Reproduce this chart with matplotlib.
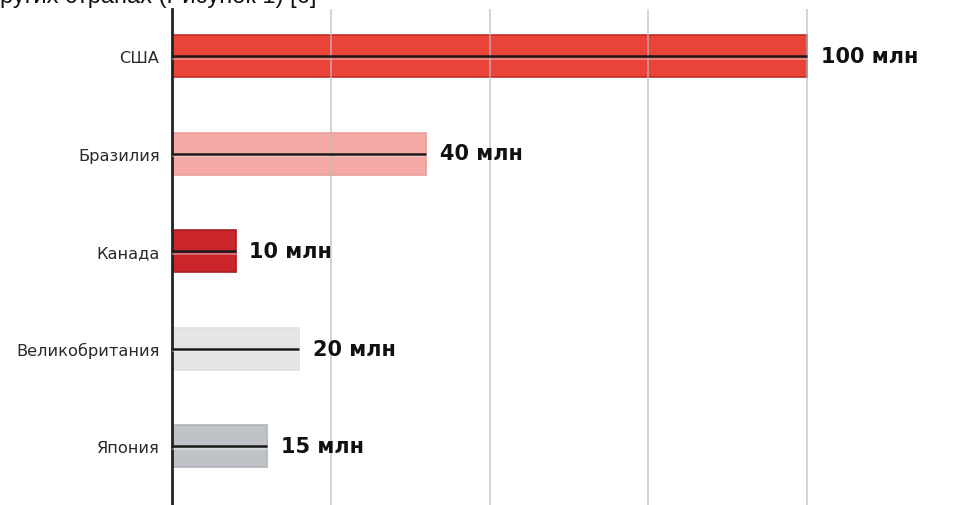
import matplotlib
matplotlib.use("Agg")
import matplotlib.pyplot as plt

categories = ["США", "Бразилия", "Канада", "Великобритания", "Япония"]
values = [100, 40, 10, 20, 15]
value_labels = ["100 млн", "40 млн", "10 млн", "20 млн", "15 млн"]
bar_colors = ["#EA4339", "#F4A9A4", "#C9252A", "#E6E6E6", "#BFC2C6"]
edge_colors = ["#C02A25", "#E8A09B", "#A81E22", "#E0E0E0", "#B0B3B7"]
grid_ticks = [25, 50, 75, 100]
caption = "ругих странах (Рисунок 1) [6]"

W, H = 957, 506
fig = plt.figure(figsize=(W / 100, H / 100), dpi=100)
fig.patch.set_facecolor("white")

x0, x100 = 172, 807
xmax = (W - x0) / ((x100 - x0) / 100)
ytop, ybot = 10, 506
y_first, y_last = 57, 447
step = (y_last - y_first) / (len(categories) - 1)
ylim_top = -(y_first - ytop) / step
ylim_bot = (len(categories) - 1) + (ybot - y_last) / step

ax = fig.add_axes([x0 / W, 0, (W - x0) / W, (ybot - ytop) / H])
ax.set_xlim(0, xmax)
ax.set_ylim(ylim_bot, ylim_top)

ypos = list(range(len(categories)))
bar_h = 42 / step
ax.barh(ypos, values, height=bar_h, color=bar_colors, edgecolor=edge_colors,
        linewidth=1.2, zorder=2)
for y, v in zip(ypos, values):
    ax.plot([0, v], [y + 0.03, y + 0.03], color="white", lw=1.2, alpha=0.4, zorder=3)
    ax.plot([0, v], [y, y], color="#1a1a1a", lw=1.8, zorder=4, solid_capstyle="butt")

for g in grid_ticks:
    ax.axvline(g, color="#bdbdbd", lw=1.3, alpha=0.7, zorder=3)

for y, v, lab in zip(ypos, values, value_labels):
    ax.text(v + 2.2, y, lab, fontsize=15, fontweight="bold",
            family=["DejaVu Sans"], color="#111111", va="center", ha="left", zorder=5)

ax.set_yticks(ypos)
ax.set_yticklabels(categories, fontsize=11.7, family=["DejaVu Sans"], color="#2a2a2a")
ax.tick_params(axis="y", length=0, pad=9)
ax.set_xticks([])
for s in ["top", "right", "bottom"]:
    ax.spines[s].set_visible(False)
ax.spines["left"].set_linewidth(2)
ax.spines["left"].set_color("#222222")
ax.set_facecolor("none")

fig.text(0, 1 - 3.5 / H, caption, fontsize=17, family=["Liberation Sans", "DejaVu Sans"],
         color="#111111", ha="left", va="baseline")

fig.savefig("out.png", dpi=100)
